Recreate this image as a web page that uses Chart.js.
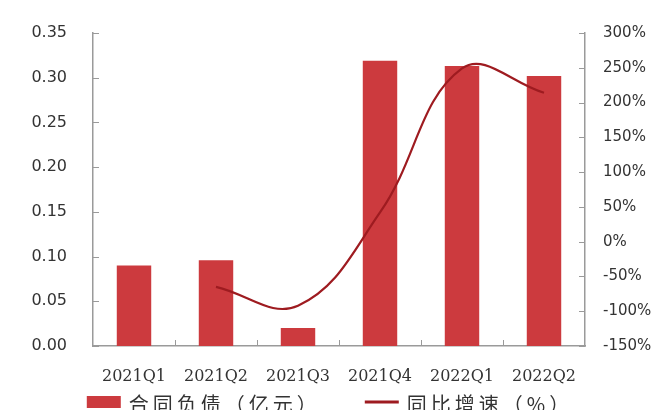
<!DOCTYPE html>
<html>
<head>
<meta charset="utf-8">
<script src="https://cdn.jsdelivr.net/npm/chart.js@4/dist/chart.umd.min.js"></script>
<style>
  html, body { margin: 0; padding: 0; background: #ffffff; }
  #wrap { width: 660px; height: 410px; position: relative; }
</style>
</head>
<body>
<div id="wrap"><canvas id="c" width="660" height="410"></canvas></div>
<script>
// Quarterly contract liabilities (100 million yuan) and YoY growth (%)
const quarters = ['2021Q1', '2021Q2', '2021Q3', '2021Q4', '2022Q1', '2022Q2'];
const contractLiabilities = [0.090, 0.096, 0.020, 0.319, 0.313, 0.302];
const yoyGrowth = [null, -65, -92, 42, 249, 214];
const barLabel = '合同负债（亿元）';
const lineLabel = '同比增速（%）';

const BAR_COLOR = '#cc3a3e';
const LINE_COLOR = '#9e1b20';
const AXIS_COLOR = '#9a9a9a';
const TEXT_COLOR = '#333333';

// Short tick marks pointing into the plot area
const innerTicks = {
  id: 'innerTicks',
  afterDatasetsDraw(chart) {
    const { ctx, chartArea: a, scales } = chart;
    ctx.save();
    ctx.strokeStyle = AXIS_COLOR;
    ctx.lineWidth = 1;
    ctx.beginPath();
    scales.y.ticks.forEach((t) => {
      const y = Math.round(scales.y.getPixelForValue(t.value)) + 0.5;
      ctx.moveTo(a.left, y); ctx.lineTo(a.left + 6, y);
    });
    scales.y1.ticks.forEach((t) => {
      const y = Math.round(scales.y1.getPixelForValue(t.value)) + 0.5;
      ctx.moveTo(a.right - 6, y); ctx.lineTo(a.right, y);
    });
    for (let i = 0; i < quarters.length - 1; i++) {
      const x = Math.round((scales.x.getPixelForValue(i) + scales.x.getPixelForValue(i + 1)) / 2) + 0.5;
      ctx.moveTo(x, a.bottom); ctx.lineTo(x, a.bottom - 6);
    }
    ctx.stroke();
    ctx.restore();
  }
};

// Legend row under the category labels
const bottomLegend = {
  id: 'bottomLegend',
  afterDraw(chart) {
    const { ctx } = chart;
    const ds = chart.data.datasets;
    const swatchW = 34, textGap = 8, itemGap = 44;
    const y = 402;
    ctx.save();
    ctx.font = '20px "Noto Sans CJK SC", sans-serif';
    ctx.letterSpacing = '4px';
    ctx.textBaseline = 'middle';
    ctx.textAlign = 'left';
    const widths = ds.map((d) => swatchW + textGap + ctx.measureText(d.label).width);
    const total = widths.reduce((s, w) => s + w, 0) + itemGap * (ds.length - 1);
    let x = (chart.width - total) / 2;
    ds.forEach((d, i) => {
      if (d.type === 'line') {
        ctx.strokeStyle = d.borderColor;
        ctx.lineWidth = 3;
        ctx.beginPath();
        ctx.moveTo(x, y); ctx.lineTo(x + swatchW, y);
        ctx.stroke();
      } else {
        ctx.fillStyle = d.backgroundColor;
        ctx.fillRect(x, y - 6, swatchW, 12);
      }
      ctx.fillStyle = TEXT_COLOR;
      ctx.fillText(d.label, x + swatchW + textGap, y + 2);
      x += widths[i] + itemGap;
    });
    ctx.restore();
  }
};

new Chart(document.getElementById('c'), {
  data: {
    labels: quarters,
    datasets: [
      {
        type: 'bar',
        label: barLabel,
        data: contractLiabilities,
        yAxisID: 'y',
        backgroundColor: BAR_COLOR,
        categoryPercentage: 1,
        barPercentage: 0.42,
        order: 1
      },
      {
        type: 'line',
        label: lineLabel,
        data: yoyGrowth,
        yAxisID: 'y1',
        borderColor: LINE_COLOR,
        borderWidth: 2.2,
        tension: 0.4,
        pointRadius: 0,
        fill: false,
        order: 0
      }
    ]
  },
  options: {
    responsive: false,
    animation: false,
    devicePixelRatio: 1,
    layout: { padding: { top: 33, left: 0, right: 0, bottom: 0 } },
    plugins: {
      legend: { display: false },
      tooltip: { enabled: false }
    },
    scales: {
      x: {
        grid: { display: false, drawTicks: false },
        border: { display: true, color: AXIS_COLOR, width: 1.5 },
        ticks: {
          color: TEXT_COLOR,
          padding: 21,
          font: { family: '"DejaVu Serif", serif', size: 16 },
          maxRotation: 0
        },
        afterFit(s) { s.height = 64; }
      },
      y: {
        position: 'left',
        min: 0,
        max: 0.35,
        grid: { display: false, drawTicks: false },
        border: { display: true, color: AXIS_COLOR, width: 1.5 },
        ticks: {
          stepSize: 0.05,
          padding: 26,
          color: TEXT_COLOR,
          font: { family: '"DejaVu Sans", sans-serif', size: 16 },
          callback: (v) => Number(v).toFixed(2)
        },
        afterFit(s) { s.width = 93; s.paddingTop = 0; s.paddingBottom = 0; }
      },
      y1: {
        position: 'right',
        min: -150,
        max: 300,
        grid: { display: false, drawTicks: false },
        border: { display: true, color: AXIS_COLOR, width: 1.5 },
        ticks: {
          stepSize: 50,
          padding: 18,
          color: TEXT_COLOR,
          font: { family: '"DejaVu Sans", sans-serif', size: 15 },
          callback: (v) => v + '%'
        },
        afterFit(s) { s.width = 75; s.paddingTop = 0; s.paddingBottom = 0; }
      }
    }
  },
  plugins: [innerTicks, bottomLegend]
});
</script>
</body>
</html>
